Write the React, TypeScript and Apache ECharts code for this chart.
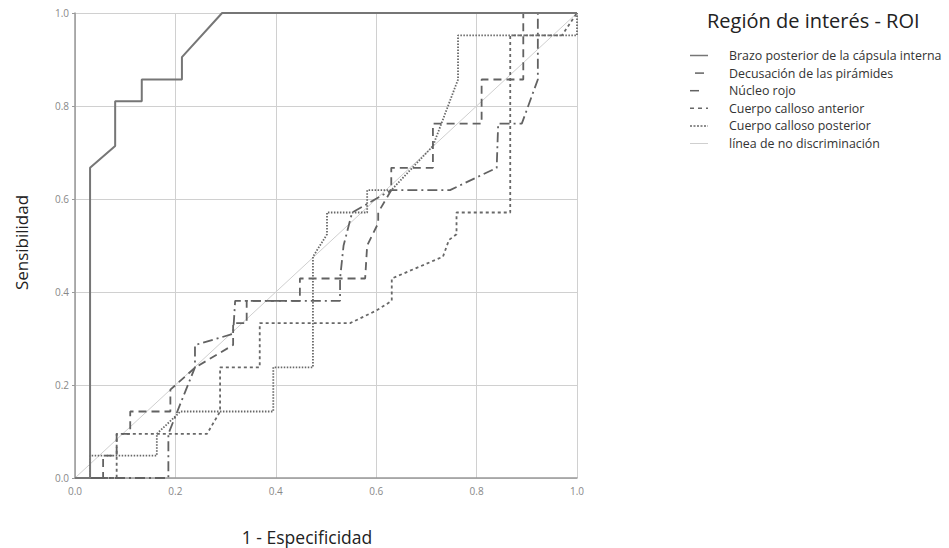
import React, { useEffect, useRef } from "react";
import * as echarts from "echarts";

const seriesNames = [
  "Brazo posterior de la cápsula interna",
  "Decusación de las pirámides",
  "Núcleo rojo",
  "Cuerpo calloso anterior",
  "Cuerpo calloso posterior",
  "línea de no discriminación",
];

const brazoPosterior = [
  [0, 0], [0.03, 0], [0.03, 0.667], [0.08, 0.714], [0.08, 0.81], [0.133, 0.81],
  [0.133, 0.857], [0.213, 0.857], [0.213, 0.905], [0.293, 1], [1, 1],
];

const decusacion = [
  [0, 0], [0.056, 0], [0.056, 0.048], [0.083, 0.048], [0.083, 0.095], [0.11, 0.095],
  [0.11, 0.143], [0.19, 0.143], [0.19, 0.19], [0.24, 0.238], [0.315, 0.286],
  [0.315, 0.333], [0.342, 0.333], [0.342, 0.381], [0.448, 0.381], [0.448, 0.429],
  [0.578, 0.429], [0.582, 0.5], [0.604, 0.548], [0.604, 0.571], [0.63, 0.619],
  [0.63, 0.667], [0.713, 0.667], [0.713, 0.762], [0.81, 0.762], [0.81, 0.857],
  [0.893, 0.857], [0.893, 1], [1, 1],
];

const nucleoRojo = [
  [0, 0], [0.186, 0], [0.186, 0.095], [0.239, 0.238], [0.239, 0.286], [0.315, 0.31],
  [0.319, 0.381], [0.528, 0.381], [0.528, 0.429], [0.535, 0.5], [0.552, 0.571],
  [0.63, 0.619], [0.747, 0.619], [0.84, 0.667], [0.843, 0.762], [0.89, 0.762],
  [0.922, 0.857], [0.922, 1], [1, 1],
];

const callosoAnterior = [
  [0, 0], [0.083, 0], [0.083, 0.095], [0.263, 0.095], [0.289, 0.143], [0.289, 0.238],
  [0.368, 0.238], [0.368, 0.333], [0.548, 0.333], [0.6, 0.36], [0.631, 0.381],
  [0.631, 0.429], [0.733, 0.476], [0.745, 0.512], [0.76, 0.524], [0.76, 0.571],
  [0.867, 0.571], [0.867, 0.952], [0.97, 0.952], [1, 1],
];

const callosoPosterior = [
  [0, 0], [0.03, 0], [0.03, 0.048], [0.163, 0.048], [0.163, 0.095], [0.21, 0.143],
  [0.395, 0.143], [0.395, 0.238], [0.474, 0.238], [0.474, 0.476], [0.502, 0.524],
  [0.502, 0.571], [0.582, 0.571], [0.582, 0.619], [0.63, 0.619], [0.713, 0.714],
  [0.763, 0.857], [0.763, 0.952], [0.986, 0.952], [1, 0.952], [1, 1],
];

const noDiscriminacion = [
  [0, 0], [1, 1],
];

const legendTitle = "Región de interés - ROI";
const xAxisTitle = "1 - Especificidad";
const yAxisTitle = "Sensibilidad";

export default function App() {
  const ref = useRef<HTMLDivElement>(null);
  useEffect(() => {
    if (!ref.current) return;
    const chart = echarts.init(ref.current, null, { renderer: "svg" });
    const font = "'Open Sans', 'Noto Sans', sans-serif";
    const styles = [
      { color: "#767676", width: 2, dash: null as number[] | null },
      { color: "#626262", width: 1.8, dash: [8, 5] },
      { color: "#626262", width: 1.8, dash: [10, 4, 2, 4] },
      { color: "#686868", width: 1.8, dash: [3, 3] },
      { color: "#686868", width: 1.8, dash: [1.5, 1.5] },
      { color: "#cfcfcf", width: 1, dash: null as number[] | null },
    ];
    const datasets = [brazoPosterior, decusacion, nucleoRojo, callosoAnterior, callosoPosterior, noDiscriminacion];
    const zs = [6, 5, 4, 3, 3, 1];
    const legendIconDash = [null, [9, 9], [9, 9], [4, 4], [2, 1.5], null];
    const legendIconRange = [[690, 708], [695, 713], [690, 708], [690, 708], [690, 708], [690, 708]];

    const graphics: any[] = [
      {
        type: "text",
        x: 707,
        y: 20,
        style: { text: legendTitle, font: `20px ${font}`, fill: "#222", verticalAlign: "middle" },
      },
      {
        type: "text",
        x: 307,
        y: 537,
        style: { text: xAxisTitle, font: `17.5px ${font}`, fill: "#222", align: "center", verticalAlign: "middle" },
      },
    ];
    seriesNames.forEach((n, i) => {
      const y = 55.5 + i * 17.6;
      graphics.push({
        type: "line",
        shape: { x1: legendIconRange[i][0], y1: y, x2: legendIconRange[i][1], y2: y },
        style: {
          stroke: styles[i].color,
          lineWidth: i === 5 ? 1 : 1.5,
          lineDash: legendIconDash[i] || undefined,
        },
      });
      graphics.push({
        type: "text",
        x: 729,
        y,
        style: { text: n, font: `12.4px ${font}`, fill: "#333", verticalAlign: "middle" },
      });
    });

    chart.setOption({
      animation: false,
      backgroundColor: "#fff",
      textStyle: { fontFamily: font },
      grid: { left: 75, right: 372, top: 13, bottom: 70, containLabel: false },
      graphic: graphics,
      xAxis: {
        type: "value",
        min: 0,
        max: 1,
        interval: 0.2,
        axisLine: { show: true, lineStyle: { color: "#999", width: 1.5 } },
        axisTick: { show: false },
        axisLabel: {
          fontSize: 10,
          color: "#888",
          margin: 8,
          formatter: (v: number) => v.toFixed(1),
        },
        splitLine: { show: true, lineStyle: { color: "#d0d0d0", width: 1 } },
      },
      yAxis: {
        type: "value",
        min: 0,
        max: 1,
        interval: 0.2,
        name: yAxisTitle,
        nameLocation: "middle",
        nameGap: 45,
        nameRotate: 90,
        nameTextStyle: { fontSize: 17, color: "#222", fontFamily: font, padding: [0, 0, 0, 6] },
        axisLine: { show: true, lineStyle: { color: "#999", width: 1.5 } },
        axisTick: { show: true, length: 3, lineStyle: { color: "#999" } },
        axisLabel: {
          fontSize: 10,
          color: "#888",
          margin: 6,
          formatter: (v: number) => v.toFixed(1),
        },
        splitLine: { show: true, lineStyle: { color: "#d0d0d0", width: 1 } },
      },
      series: seriesNames.map((name, i) => ({
        name,
        type: "line",
        data: datasets[i],
        symbol: "none",
        z: zs[i],
        lineStyle: {
          color: styles[i].color,
          width: styles[i].width,
          type: styles[i].dash || "solid",
        },
        itemStyle: { color: styles[i].color },
      })),
    });
    return () => chart.dispose();
  }, []);
  return <div ref={ref} style={{ position: "fixed", left: 0, top: 0, width: 949, height: 548 }} />;
}
